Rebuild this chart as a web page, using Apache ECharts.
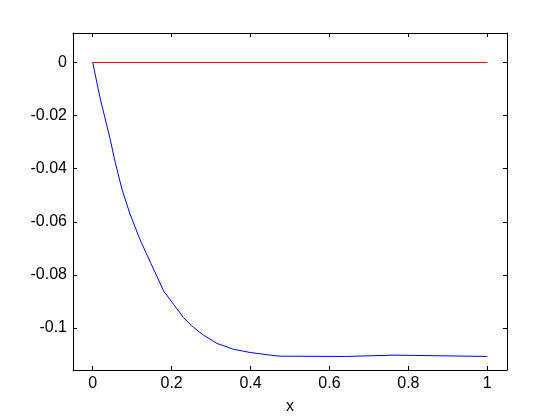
<!DOCTYPE html>
<html>
<head>
<meta charset="utf-8">
<script src="https://cdn.jsdelivr.net/npm/echarts@6/dist/echarts.min.js"></script>
<style>
  html, body { margin: 0; padding: 0; background: #fff; }
  #chart { width: 560px; height: 420px; }
</style>
</head>
<body>
<div id="chart"></div>
<script>
// tick values
const xTicks = [0, 0.2, 0.4, 0.6, 0.8, 1]
const yTicks = [0, -0.02, -0.04, -0.06, -0.08, -0.1]

// red line (zero)
const redX = [0, 1]
const redY = [0, 0]

// blue curve
const blueX = [0, 0.0187, 0.043, 0.0575, 0.0744, 0.0937, 0.119, 0.1466, 0.18, 0.205, 0.2304, 0.2557, 0.281, 0.315, 0.357, 0.399, 0.4246, 0.45, 0.475, 0.641, 0.642, 0.764, 0.765, 1]
const blueY = [0, -0.0134, -0.0281, -0.0379, -0.0479, -0.0567, -0.0664, -0.0754, -0.0861, -0.0911, -0.0961, -0.0998, -0.1027, -0.1058, -0.108, -0.1092, -0.1097, -0.1102, -0.1106, -0.1107, -0.1102, -0.1102, -0.1107, -0.1107]

const font = 'Liberation Sans, Arial, sans-serif'
const zip = (xs, ys) => xs.map((x, i) => [x, ys[i]])
const fmt = (v) => String(+v.toFixed(2))

const chart = echarts.init(document.getElementById('chart'))

const baseX = {
  type: 'value',
  min: -0.05,
  max: 1.05,
  splitLine: { show: false },
  axisLine: { onZero: false, lineStyle: { color: '#000', width: 1 } },
  axisTick: { inside: true, length: 4, customValues: xTicks, lineStyle: { color: '#000' } }
}
const baseY = {
  type: 'value',
  min: -0.1158,
  max: 0.0111,
  splitLine: { show: false },
  axisLine: { onZero: false, lineStyle: { color: '#000', width: 1 } },
  axisTick: { inside: true, length: 4, customValues: yTicks, lineStyle: { color: '#000' } }
}

chart.setOption({
  animation: false,
  backgroundColor: '#fff',
  grid: { left: 73, right: 53, top: 33, bottom: 49 },
  xAxis: [
    {
      ...baseX,
      position: 'bottom',
      name: 'x',
      nameLocation: 'middle',
      nameGap: 29,
      nameTextStyle: { color: '#000', fontSize: 16, fontFamily: font },
      axisLabel: {
        customValues: xTicks,
        formatter: fmt,
        color: '#000',
        fontSize: 16,
        fontFamily: font,
        margin: 6
      }
    },
    { ...baseX, position: 'top', axisLabel: { show: false } }
  ],
  yAxis: [
    {
      ...baseY,
      position: 'left',
      axisLabel: {
        customValues: yTicks,
        formatter: fmt,
        color: '#000',
        fontSize: 16,
        fontFamily: font,
        margin: 6
      }
    },
    { ...baseY, position: 'right', axisLabel: { show: false } }
  ],
  series: [
    {
      type: 'line',
      data: zip(redX, redY),
      showSymbol: false,
      lineStyle: { color: '#ff0000', width: 1 },
      z: 3
    },
    {
      type: 'line',
      data: zip(blueX, blueY),
      showSymbol: false,
      smooth: false,
      lineStyle: { color: '#0000ff', width: 1 },
      z: 2
    }
  ]
})
</script>
</body>
</html>
